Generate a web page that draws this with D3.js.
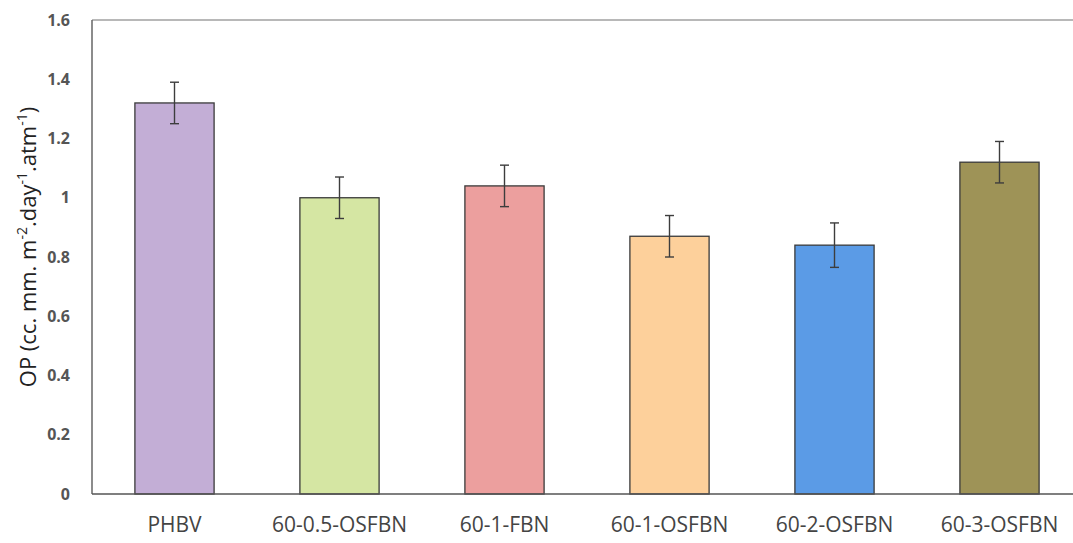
<!DOCTYPE html>
<html>
<head>
<meta charset="utf-8">
<script src="https://cdn.jsdelivr.net/npm/d3@7"></script>
<style>
  body { margin: 0; background: #fff; }
  svg { display: block; }
</style>
</head>
<body>
<svg id="chart" width="1073" height="543"></svg>
<script>
// data
const samples = ["PHBV", "60-0.5-OSFBN", "60-1-FBN", "60-1-OSFBN", "60-2-OSFBN", "60-3-OSFBN"];
const opValues = [1.32, 1.00, 1.04, 0.87, 0.84, 1.12];
const opErrors = [0.07, 0.07, 0.07, 0.07, 0.075, 0.07];
const barColors = ["#c3aed6", "#d5e6a3", "#ec9f9e", "#fdd09b", "#5b9be6", "#9e9357"];
const yTicks = [0, 0.2, 0.4, 0.6, 0.8, 1, 1.2, 1.4, 1.6];

const margin = {top: 20, left: 92, bottom: 494, right: 1082};

const svg = d3.select("#chart");

const x = d3.scaleBand()
    .domain(samples)
    .range([margin.left, margin.right])
    .paddingInner(0.52)
    .paddingOuter(0.26);

const y = d3.scaleLinear()
    .domain([0, 1.6])
    .range([margin.bottom, margin.top]);

// frame: grey top line, dark left line
svg.append("line")
    .attr("x1", margin.left).attr("x2", 1073)
    .attr("y1", y(1.6)).attr("y2", y(1.6))
    .attr("stroke", "#a0a0a0").attr("stroke-width", 1.5);

svg.append("line")
    .attr("x1", margin.left).attr("x2", margin.left)
    .attr("y1", y(1.6)).attr("y2", y(0))
    .attr("stroke", "#666").attr("stroke-width", 1.5);

// bars
svg.selectAll(".bar")
    .data(samples)
    .enter()
    .append("rect")
    .attr("class", "bar")
    .attr("x", d => x(d))
    .attr("y", (d, i) => y(opValues[i]))
    .attr("width", x.bandwidth())
    .attr("height", (d, i) => y(0) - y(opValues[i]))
    .attr("fill", (d, i) => barColors[i])
    .attr("stroke", "#3a3a3a")
    .attr("stroke-width", 1.3);

// error bars
const err = svg.append("g").attr("stroke", "#3d3d3d").attr("stroke-width", 1.4);
samples.forEach((s, i) => {
    const cx = x(s) + x.bandwidth() / 2;
    const hi = y(opValues[i] + opErrors[i]);
    const lo = y(opValues[i] - opErrors[i]);
    err.append("line").attr("x1", cx).attr("x2", cx).attr("y1", hi).attr("y2", lo);
    err.append("line").attr("x1", cx - 4.5).attr("x2", cx + 4.5).attr("y1", hi).attr("y2", hi);
    err.append("line").attr("x1", cx - 4.5).attr("x2", cx + 4.5).attr("y1", lo).attr("y2", lo);
});

// x axis line
svg.append("line")
    .attr("x1", margin.left).attr("x2", 1073)
    .attr("y1", y(0)).attr("y2", y(0))
    .attr("stroke", "#555").attr("stroke-width", 1.5);

// y axis labels (no tick marks)
const yAxis = svg.append("g")
    .attr("transform", "translate(" + margin.left + ",0)")
    .call(d3.axisLeft(y).tickValues(yTicks).tickSize(0).tickPadding(22).tickFormat(d => d3.format("")(+d.toFixed(1))));
yAxis.select(".domain").remove();
yAxis.selectAll("text")
    .attr("font-family", "'Open Sans', 'DejaVu Sans', sans-serif")
    .attr("font-size", 16)
    .attr("font-weight", "bold")
    .attr("fill", "#555");

// x axis labels
const xAxis = svg.append("g")
    .attr("transform", "translate(0," + y(0) + ")")
    .call(d3.axisBottom(x).tickSize(0).tickPadding(23));
xAxis.select(".domain").remove();
xAxis.selectAll("text")
    .attr("font-family", "'Open Sans', 'DejaVu Sans', sans-serif")
    .attr("font-size", 21)
    .attr("fill", "#444");

// y label with superscripts
const yLabel = svg.append("text")
    .attr("transform", "translate(36,247) rotate(-90)")
    .attr("text-anchor", "middle")
    .attr("font-family", "'Open Sans', 'DejaVu Sans', sans-serif")
    .attr("font-size", 22)
    .attr("fill", "#222");
yLabel.append("tspan").text("OP (cc. mm. m");
yLabel.append("tspan").attr("baseline-shift", "super").attr("font-size", 14).text("-2");
yLabel.append("tspan").text(".day");
yLabel.append("tspan").attr("baseline-shift", "super").attr("font-size", 14).text("-1");
yLabel.append("tspan").text(".atm");
yLabel.append("tspan").attr("baseline-shift", "super").attr("font-size", 14).text("-1");
yLabel.append("tspan").text(")");
</script>
</body>
</html>
